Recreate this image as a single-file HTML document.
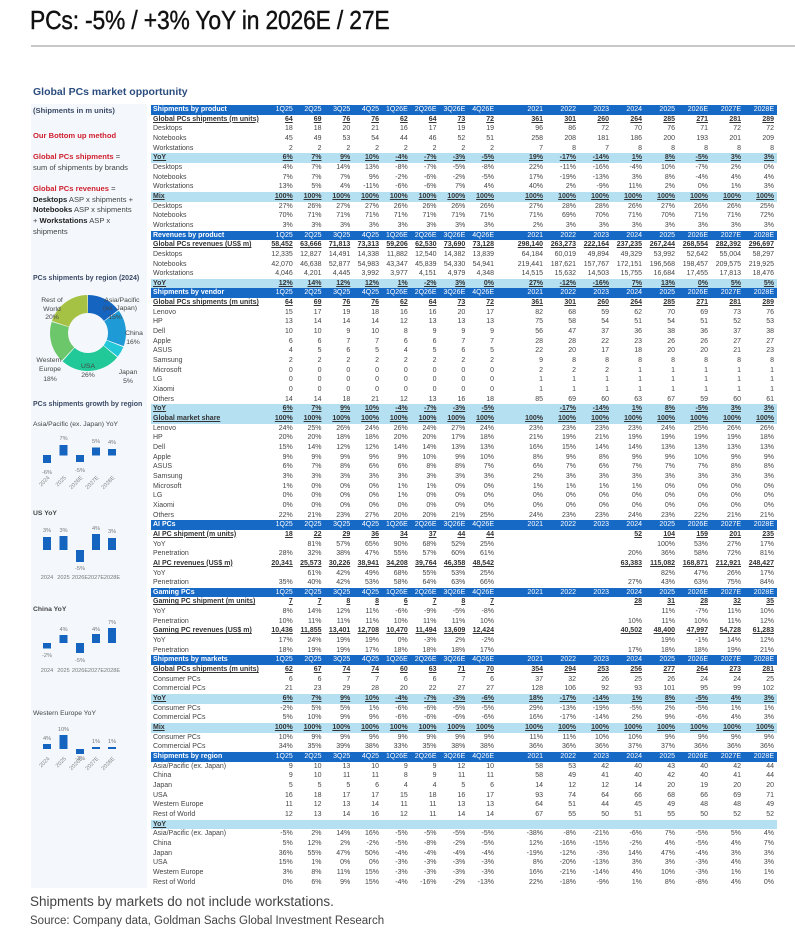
<!DOCTYPE html>
<html><head><meta charset="utf-8">
<style>
*{margin:0;padding:0;box-sizing:border-box}
body{width:795px;height:933px;background:#fff;position:relative;overflow:hidden;font-family:"Liberation Sans",Arial,sans-serif;color:#444}
#title{position:absolute;left:30px;top:5px;font-size:26px;color:#111;white-space:nowrap;transform:scaleX(0.88);transform-origin:left top;letter-spacing:-0.2px;-webkit-text-stroke:0.4px #111}
#rule{position:absolute;left:31px;top:45px;width:764px;height:2px;background:#c8c8c8}
#sub{position:absolute;left:33px;top:86px;font-size:10.5px;font-weight:bold;color:#2b4c7e}
#panel{position:absolute;left:31px;top:104px;width:116px;height:784px;background:#f4f8fc}
#tbl{position:absolute;left:151px;top:105px;width:626px}
.r{display:grid;grid-template-columns:115px repeat(8,28.75px) 16px repeat(8,33px);height:9.66px;line-height:9.66px;font-size:7px;white-space:nowrap}
.r>*{text-align:right;padding-right:2px;overflow:visible}
.r>*:first-child{text-align:left;padding-left:2px}
.h{background:#1769c6;color:#fff}
.h>*:first-child{font-weight:bold}
.l{background:#b4e0f2;font-weight:bold;color:#333}
.l>*{text-decoration:underline}
.t{font-weight:bold;color:#333}
.t>*{text-decoration:underline}
.foot{position:absolute;left:30px;color:#444;white-space:nowrap}
svg{position:absolute;left:0;top:0}
</style></head><body>
<div id="title">PCs: -5% / +3% YoY in 2026E / 27E</div>
<div id="rule"></div>
<div id="sub">Global PCs market opportunity</div>
<div id="panel"></div>

<svg width="795" height="933" viewBox="0 0 795 933" font-family="Liberation Sans, Arial, sans-serif">
<g font-size="7.6">
<text x="33" y="113" font-weight="bold" fill="#3c4a66">(Shipments in m units)</text>
<text x="33" y="138" font-weight="bold" fill="#d0202e">Our Bottom up method</text>
<text x="33" y="159"><tspan font-weight="bold" fill="#d0202e">Global PCs shipments</tspan><tspan fill="#444"> =</tspan></text>
<text x="33" y="170" fill="#444">sum of shipments by brands</text>
<text x="33" y="191"><tspan font-weight="bold" fill="#d0202e">Global PCs revenues</tspan><tspan fill="#444"> =</tspan></text>
<text x="33" y="202" fill="#444"><tspan font-weight="bold" fill="#222">Desktops</tspan> ASP x shipments +</text>
<text x="33" y="212" fill="#444"><tspan font-weight="bold" fill="#222">Notebooks</tspan> ASP x shipments</text>
<text x="33" y="223" fill="#444">+ <tspan font-weight="bold" fill="#222">Workstations</tspan> ASP x</text>
<text x="33" y="234" fill="#444">shipments</text>
</g>
<g font-size="7" font-weight="bold" fill="#3c4a66">
<text x="33" y="280">PCs shipments by region (2024)</text>
<text x="33" y="406">PCs shipments growth by region</text>
</g>
<g transform="rotate(-90 88 333)" fill="none" stroke-width="18">
<circle cx="88" cy="333" r="29" stroke="#1565c0" stroke-dasharray="26.6 182.2" stroke-dashoffset="0"/>
<circle cx="88" cy="333" r="29" stroke="#1e9ad6" stroke-dasharray="28.4 182.2" stroke-dashoffset="-27.33"/>
<circle cx="88" cy="333" r="29" stroke="#22c8d8" stroke-dasharray="8.4 182.2" stroke-dashoffset="-56.48"/>
<circle cx="88" cy="333" r="29" stroke="#20c997" stroke-dasharray="46.6 182.2" stroke-dashoffset="-65.59"/>
<circle cx="88" cy="333" r="29" stroke="#6cc66a" stroke-dasharray="32.1 182.2" stroke-dashoffset="-112.96"/>
<circle cx="88" cy="333" r="29" stroke="#a6c244" stroke-dasharray="35.7 182.2" stroke-dashoffset="-145.76"/>
</g>
<g font-size="6.8" fill="#444" text-anchor="middle">
<text x="52" y="302">Rest of</text><text x="52" y="311">World</text><text x="52" y="319">20%</text>
<text x="122" y="302">Asia/Pacific</text><text x="120" y="310">(ex. Japan)</text><text x="115" y="319">15%</text>
<text x="134" y="335">China</text><text x="133" y="344">16%</text>
<text x="128" y="374">Japan</text><text x="128" y="383">5%</text>
<text x="88" y="368">USA</text><text x="88" y="377">26%</text>
<text x="49" y="362">Western</text><text x="50" y="371">Europe</text><text x="50" y="381">18%</text>
</g>
<g font-size="6.8" fill="#444">
<text x="33" y="426">Asia/Pacific (ex. Japan) YoY</text>
<text x="33" y="515" font-weight="bold">US YoY</text>
<text x="33" y="611" font-weight="bold">China YoY</text>
<text x="33" y="715">Western Europe YoY</text>
</g>
<g fill="#1565c0">
<rect x="43" y="455" width="8" height="8"/><rect x="59.5" y="445" width="8" height="10.5"/><rect x="76" y="455" width="8" height="7"/><rect x="92" y="447.5" width="8" height="8"/><rect x="108" y="449" width="8" height="6.5"/>
<rect x="43" y="537" width="8" height="13"/><rect x="59.5" y="536" width="8" height="14"/><rect x="76" y="550" width="8" height="12"/><rect x="92" y="534" width="8" height="16"/><rect x="108" y="538" width="8" height="12"/>
<rect x="43" y="643" width="8" height="5.5"/><rect x="59.5" y="635" width="8" height="8"/><rect x="76" y="643" width="8" height="10"/><rect x="92" y="634" width="8" height="9"/><rect x="108" y="628" width="8" height="15"/>
<rect x="43" y="744" width="8" height="5"/><rect x="59.5" y="735" width="8" height="14"/><rect x="76" y="749" width="8" height="5"/><rect x="92" y="747" width="8" height="2"/><rect x="108" y="747" width="8" height="2"/>
</g>
<g font-size="5.6" fill="#777" text-anchor="middle">
<text x="63.5" y="440">7%</text><text x="96" y="443">5%</text><text x="112" y="444">4%</text><text x="47" y="474">-6%</text><text x="80" y="472">-5%</text>
<text x="47" y="532">3%</text><text x="63.5" y="532">3%</text><text x="96" y="530">4%</text><text x="112" y="533">3%</text><text x="80" y="570">-5%</text>
<text x="47" y="579">2024</text><text x="63.5" y="579">2025</text><text x="80" y="579">2026E</text><text x="96" y="579">2027E</text><text x="112" y="579">2028E</text>
<text x="63.5" y="631">4%</text><text x="96" y="631">4%</text><text x="112" y="624">7%</text><text x="47" y="657">-2%</text><text x="80" y="662">-5%</text>
<text x="47" y="672">2024</text><text x="63.5" y="672">2025</text><text x="80" y="672">2026E</text><text x="96" y="672">2027E</text><text x="112" y="672">2028E</text>
<text x="47" y="740">4%</text><text x="63.5" y="731">10%</text><text x="96" y="743">1%</text><text x="112" y="743">1%</text><text x="80" y="760">-3%</text>
</g>
<g font-size="5.6" fill="#888" text-anchor="end">
<text transform="translate(50 478) rotate(-45)">2024</text><text transform="translate(66.5 478) rotate(-45)">2025</text><text transform="translate(83 478) rotate(-45)">2026E</text><text transform="translate(99 478) rotate(-45)">2027E</text><text transform="translate(115 478) rotate(-45)">2028E</text>
<text transform="translate(50 759) rotate(-45)">2024</text><text transform="translate(66.5 759) rotate(-45)">2025</text><text transform="translate(83 759) rotate(-45)">2026E</text><text transform="translate(99 759) rotate(-45)">2027E</text><text transform="translate(115 759) rotate(-45)">2028E</text>
</g>
</svg>

<div id="tbl">
<div class="r h"><span>Shipments by product</span><span>1Q25</span><span>2Q25</span><span>3Q25</span><span>4Q25</span><span>1Q26E</span><span>2Q26E</span><span>3Q26E</span><span>4Q26E</span><em></em><span>2021</span><span>2022</span><span>2023</span><span>2024</span><span>2025</span><span>2026E</span><span>2027E</span><span>2028E</span></div>
<div class="r t"><span>Global PCs shipments (m units)</span><span>64</span><span>69</span><span>76</span><span>76</span><span>62</span><span>64</span><span>73</span><span>72</span><em></em><span>361</span><span>301</span><span>260</span><span>264</span><span>285</span><span>271</span><span>281</span><span>289</span></div>
<div class="r"><span>Desktops</span><span>18</span><span>18</span><span>20</span><span>21</span><span>16</span><span>17</span><span>19</span><span>19</span><em></em><span>96</span><span>86</span><span>72</span><span>70</span><span>76</span><span>71</span><span>72</span><span>72</span></div>
<div class="r"><span>Notebooks</span><span>45</span><span>49</span><span>53</span><span>54</span><span>44</span><span>46</span><span>52</span><span>51</span><em></em><span>258</span><span>208</span><span>181</span><span>186</span><span>200</span><span>193</span><span>201</span><span>209</span></div>
<div class="r"><span>Workstations</span><span>2</span><span>2</span><span>2</span><span>2</span><span>2</span><span>2</span><span>2</span><span>2</span><em></em><span>7</span><span>8</span><span>7</span><span>8</span><span>8</span><span>8</span><span>8</span><span>8</span></div>
<div class="r l"><span>YoY</span><span>6%</span><span>7%</span><span>9%</span><span>10%</span><span>-4%</span><span>-7%</span><span>-3%</span><span>-5%</span><em></em><span>19%</span><span>-17%</span><span>-14%</span><span>1%</span><span>8%</span><span>-5%</span><span>3%</span><span>3%</span></div>
<div class="r"><span>Desktops</span><span>4%</span><span>7%</span><span>14%</span><span>13%</span><span>-8%</span><span>-7%</span><span>-5%</span><span>-8%</span><em></em><span>22%</span><span>-11%</span><span>-16%</span><span>-4%</span><span>10%</span><span>-7%</span><span>2%</span><span>0%</span></div>
<div class="r"><span>Notebooks</span><span>7%</span><span>7%</span><span>7%</span><span>9%</span><span>-2%</span><span>-6%</span><span>-2%</span><span>-5%</span><em></em><span>17%</span><span>-19%</span><span>-13%</span><span>3%</span><span>8%</span><span>-4%</span><span>4%</span><span>4%</span></div>
<div class="r"><span>Workstations</span><span>13%</span><span>5%</span><span>4%</span><span>-11%</span><span>-6%</span><span>-6%</span><span>7%</span><span>4%</span><em></em><span>40%</span><span>2%</span><span>-9%</span><span>11%</span><span>2%</span><span>0%</span><span>1%</span><span>3%</span></div>
<div class="r l"><span>Mix</span><span>100%</span><span>100%</span><span>100%</span><span>100%</span><span>100%</span><span>100%</span><span>100%</span><span>100%</span><em></em><span>100%</span><span>100%</span><span>100%</span><span>100%</span><span>100%</span><span>100%</span><span>100%</span><span>100%</span></div>
<div class="r"><span>Desktops</span><span>27%</span><span>26%</span><span>27%</span><span>27%</span><span>26%</span><span>26%</span><span>26%</span><span>26%</span><em></em><span>27%</span><span>28%</span><span>28%</span><span>26%</span><span>27%</span><span>26%</span><span>26%</span><span>25%</span></div>
<div class="r"><span>Notebooks</span><span>70%</span><span>71%</span><span>71%</span><span>71%</span><span>71%</span><span>71%</span><span>71%</span><span>71%</span><em></em><span>71%</span><span>69%</span><span>70%</span><span>71%</span><span>70%</span><span>71%</span><span>71%</span><span>72%</span></div>
<div class="r"><span>Workstations</span><span>3%</span><span>3%</span><span>3%</span><span>3%</span><span>3%</span><span>3%</span><span>3%</span><span>3%</span><em></em><span>2%</span><span>3%</span><span>3%</span><span>3%</span><span>3%</span><span>3%</span><span>3%</span><span>3%</span></div>
<div class="r h"><span>Revenues by product</span><span>1Q25</span><span>2Q25</span><span>3Q25</span><span>4Q25</span><span>1Q26E</span><span>2Q26E</span><span>3Q26E</span><span>4Q26E</span><em></em><span>2021</span><span>2022</span><span>2023</span><span>2024</span><span>2025</span><span>2026E</span><span>2027E</span><span>2028E</span></div>
<div class="r t"><span>Global PCs revenues (US$ m)</span><span>58,452</span><span>63,666</span><span>71,813</span><span>73,313</span><span>59,206</span><span>62,530</span><span>73,690</span><span>73,128</span><em></em><span>298,140</span><span>263,273</span><span>222,164</span><span>237,235</span><span>267,244</span><span>268,554</span><span>282,392</span><span>296,697</span></div>
<div class="r"><span>Desktops</span><span>12,335</span><span>12,827</span><span>14,491</span><span>14,338</span><span>11,882</span><span>12,540</span><span>14,382</span><span>13,839</span><em></em><span>64,184</span><span>60,019</span><span>49,894</span><span>49,329</span><span>53,992</span><span>52,642</span><span>55,004</span><span>58,297</span></div>
<div class="r"><span>Notebooks</span><span>42,070</span><span>46,638</span><span>52,877</span><span>54,983</span><span>43,347</span><span>45,839</span><span>54,330</span><span>54,941</span><em></em><span>219,441</span><span>187,621</span><span>157,767</span><span>172,151</span><span>196,568</span><span>198,457</span><span>209,575</span><span>219,925</span></div>
<div class="r"><span>Workstations</span><span>4,046</span><span>4,201</span><span>4,445</span><span>3,992</span><span>3,977</span><span>4,151</span><span>4,979</span><span>4,348</span><em></em><span>14,515</span><span>15,632</span><span>14,503</span><span>15,755</span><span>16,684</span><span>17,455</span><span>17,813</span><span>18,476</span></div>
<div class="r l"><span>YoY</span><span>12%</span><span>14%</span><span>12%</span><span>12%</span><span>1%</span><span>-2%</span><span>3%</span><span>0%</span><em></em><span>27%</span><span>-12%</span><span>-16%</span><span>7%</span><span>13%</span><span>0%</span><span>5%</span><span>5%</span></div>
<div class="r h"><span>Shipments by vendor</span><span>1Q25</span><span>2Q25</span><span>3Q25</span><span>4Q25</span><span>1Q26E</span><span>2Q26E</span><span>3Q26E</span><span>4Q26E</span><em></em><span>2021</span><span>2022</span><span>2023</span><span>2024</span><span>2025</span><span>2026E</span><span>2027E</span><span>2028E</span></div>
<div class="r t"><span>Global PCs shipments (m units)</span><span>64</span><span>69</span><span>76</span><span>76</span><span>62</span><span>64</span><span>73</span><span>72</span><em></em><span>361</span><span>301</span><span>260</span><span>264</span><span>285</span><span>271</span><span>281</span><span>289</span></div>
<div class="r"><span>Lenovo</span><span>15</span><span>17</span><span>19</span><span>18</span><span>16</span><span>16</span><span>20</span><span>17</span><em></em><span>82</span><span>68</span><span>59</span><span>62</span><span>70</span><span>69</span><span>73</span><span>76</span></div>
<div class="r"><span>HP</span><span>13</span><span>14</span><span>14</span><span>14</span><span>12</span><span>13</span><span>13</span><span>13</span><em></em><span>75</span><span>58</span><span>54</span><span>51</span><span>54</span><span>51</span><span>52</span><span>53</span></div>
<div class="r"><span>Dell</span><span>10</span><span>10</span><span>9</span><span>10</span><span>8</span><span>9</span><span>9</span><span>9</span><em></em><span>56</span><span>47</span><span>37</span><span>36</span><span>38</span><span>36</span><span>37</span><span>38</span></div>
<div class="r"><span>Apple</span><span>6</span><span>6</span><span>7</span><span>7</span><span>6</span><span>6</span><span>7</span><span>7</span><em></em><span>28</span><span>28</span><span>22</span><span>23</span><span>26</span><span>26</span><span>27</span><span>27</span></div>
<div class="r"><span>ASUS</span><span>4</span><span>5</span><span>6</span><span>5</span><span>4</span><span>5</span><span>6</span><span>5</span><em></em><span>22</span><span>20</span><span>17</span><span>18</span><span>20</span><span>20</span><span>21</span><span>23</span></div>
<div class="r"><span>Samsung</span><span>2</span><span>2</span><span>2</span><span>2</span><span>2</span><span>2</span><span>2</span><span>2</span><em></em><span>9</span><span>8</span><span>8</span><span>8</span><span>8</span><span>8</span><span>8</span><span>8</span></div>
<div class="r"><span>Microsoft</span><span>0</span><span>0</span><span>0</span><span>0</span><span>0</span><span>0</span><span>0</span><span>0</span><em></em><span>2</span><span>2</span><span>2</span><span>1</span><span>1</span><span>1</span><span>1</span><span>1</span></div>
<div class="r"><span>LG</span><span>0</span><span>0</span><span>0</span><span>0</span><span>0</span><span>0</span><span>0</span><span>0</span><em></em><span>1</span><span>1</span><span>1</span><span>1</span><span>1</span><span>1</span><span>1</span><span>1</span></div>
<div class="r"><span>Xiaomi</span><span>0</span><span>0</span><span>0</span><span>0</span><span>0</span><span>0</span><span>0</span><span>0</span><em></em><span>1</span><span>1</span><span>1</span><span>1</span><span>1</span><span>1</span><span>1</span><span>1</span></div>
<div class="r"><span>Others</span><span>14</span><span>14</span><span>18</span><span>21</span><span>12</span><span>13</span><span>16</span><span>18</span><em></em><span>85</span><span>69</span><span>60</span><span>63</span><span>67</span><span>59</span><span>60</span><span>61</span></div>
<div class="r l"><span>YoY</span><span>6%</span><span>7%</span><span>9%</span><span>10%</span><span>-4%</span><span>-7%</span><span>-3%</span><span>-5%</span><em></em><span></span><span>-17%</span><span>-14%</span><span>1%</span><span>8%</span><span>-5%</span><span>3%</span><span>3%</span></div>
<div class="r l"><span>Global market share</span><span>100%</span><span>100%</span><span>100%</span><span>100%</span><span>100%</span><span>100%</span><span>100%</span><span>100%</span><em></em><span>100%</span><span>100%</span><span>100%</span><span>100%</span><span>100%</span><span>100%</span><span>100%</span><span>100%</span></div>
<div class="r"><span>Lenovo</span><span>24%</span><span>25%</span><span>26%</span><span>24%</span><span>26%</span><span>24%</span><span>27%</span><span>24%</span><em></em><span>23%</span><span>23%</span><span>23%</span><span>23%</span><span>24%</span><span>25%</span><span>26%</span><span>26%</span></div>
<div class="r"><span>HP</span><span>20%</span><span>20%</span><span>18%</span><span>18%</span><span>20%</span><span>20%</span><span>17%</span><span>18%</span><em></em><span>21%</span><span>19%</span><span>21%</span><span>19%</span><span>19%</span><span>19%</span><span>19%</span><span>18%</span></div>
<div class="r"><span>Dell</span><span>15%</span><span>14%</span><span>12%</span><span>12%</span><span>14%</span><span>14%</span><span>13%</span><span>13%</span><em></em><span>16%</span><span>15%</span><span>14%</span><span>14%</span><span>13%</span><span>13%</span><span>13%</span><span>13%</span></div>
<div class="r"><span>Apple</span><span>9%</span><span>9%</span><span>9%</span><span>9%</span><span>9%</span><span>10%</span><span>9%</span><span>10%</span><em></em><span>8%</span><span>9%</span><span>8%</span><span>9%</span><span>9%</span><span>10%</span><span>9%</span><span>9%</span></div>
<div class="r"><span>ASUS</span><span>6%</span><span>7%</span><span>8%</span><span>6%</span><span>6%</span><span>8%</span><span>8%</span><span>7%</span><em></em><span>6%</span><span>7%</span><span>6%</span><span>7%</span><span>7%</span><span>7%</span><span>8%</span><span>8%</span></div>
<div class="r"><span>Samsung</span><span>3%</span><span>3%</span><span>3%</span><span>3%</span><span>3%</span><span>3%</span><span>3%</span><span>3%</span><em></em><span>2%</span><span>3%</span><span>3%</span><span>3%</span><span>3%</span><span>3%</span><span>3%</span><span>3%</span></div>
<div class="r"><span>Microsoft</span><span>1%</span><span>0%</span><span>0%</span><span>0%</span><span>1%</span><span>1%</span><span>0%</span><span>0%</span><em></em><span>1%</span><span>1%</span><span>1%</span><span>1%</span><span>0%</span><span>0%</span><span>0%</span><span>0%</span></div>
<div class="r"><span>LG</span><span>0%</span><span>0%</span><span>0%</span><span>0%</span><span>1%</span><span>0%</span><span>0%</span><span>0%</span><em></em><span>0%</span><span>0%</span><span>0%</span><span>0%</span><span>0%</span><span>0%</span><span>0%</span><span>0%</span></div>
<div class="r"><span>Xiaomi</span><span>0%</span><span>0%</span><span>0%</span><span>0%</span><span>0%</span><span>0%</span><span>0%</span><span>0%</span><em></em><span>0%</span><span>0%</span><span>0%</span><span>0%</span><span>0%</span><span>0%</span><span>0%</span><span>0%</span></div>
<div class="r"><span>Others</span><span>22%</span><span>21%</span><span>23%</span><span>27%</span><span>20%</span><span>20%</span><span>21%</span><span>25%</span><em></em><span>24%</span><span>23%</span><span>23%</span><span>24%</span><span>23%</span><span>22%</span><span>21%</span><span>21%</span></div>
<div class="r h"><span>AI PCs</span><span>1Q25</span><span>2Q25</span><span>3Q25</span><span>4Q25</span><span>1Q26E</span><span>2Q26E</span><span>3Q26E</span><span>4Q26E</span><em></em><span>2021</span><span>2022</span><span>2023</span><span>2024</span><span>2025</span><span>2026E</span><span>2027E</span><span>2028E</span></div>
<div class="r t"><span>AI PC shipment (m units)</span><span>18</span><span>22</span><span>29</span><span>36</span><span>34</span><span>37</span><span>44</span><span>44</span><em></em><span></span><span></span><span></span><span>52</span><span>104</span><span>159</span><span>201</span><span>235</span></div>
<div class="r"><span>YoY</span><span></span><span>81%</span><span>57%</span><span>65%</span><span>90%</span><span>68%</span><span>52%</span><span>25%</span><em></em><span></span><span></span><span></span><span></span><span>100%</span><span>53%</span><span>27%</span><span>17%</span></div>
<div class="r"><span>Penetration</span><span>28%</span><span>32%</span><span>38%</span><span>47%</span><span>55%</span><span>57%</span><span>60%</span><span>61%</span><em></em><span></span><span></span><span></span><span>20%</span><span>36%</span><span>58%</span><span>72%</span><span>81%</span></div>
<div class="r t"><span>AI PC revenues (US$ m)</span><span>20,341</span><span>25,573</span><span>30,226</span><span>38,941</span><span>34,208</span><span>39,764</span><span>46,358</span><span>48,542</span><em></em><span></span><span></span><span></span><span>63,383</span><span>115,082</span><span>168,871</span><span>212,921</span><span>248,427</span></div>
<div class="r"><span>YoY</span><span></span><span>61%</span><span>42%</span><span>49%</span><span>68%</span><span>55%</span><span>53%</span><span>25%</span><em></em><span></span><span></span><span></span><span></span><span>82%</span><span>47%</span><span>26%</span><span>17%</span></div>
<div class="r"><span>Penetration</span><span>35%</span><span>40%</span><span>42%</span><span>53%</span><span>58%</span><span>64%</span><span>63%</span><span>66%</span><em></em><span></span><span></span><span></span><span>27%</span><span>43%</span><span>63%</span><span>75%</span><span>84%</span></div>
<div class="r h"><span>Gaming PCs</span><span>1Q25</span><span>2Q25</span><span>3Q25</span><span>4Q25</span><span>1Q26E</span><span>2Q26E</span><span>3Q26E</span><span>4Q26E</span><em></em><span>2021</span><span>2022</span><span>2023</span><span>2024</span><span>2025</span><span>2026E</span><span>2027E</span><span>2028E</span></div>
<div class="r t"><span>Gaming PC shipment (m units)</span><span>7</span><span>7</span><span>8</span><span>8</span><span>6</span><span>7</span><span>8</span><span>7</span><em></em><span></span><span></span><span></span><span>28</span><span>31</span><span>28</span><span>32</span><span>35</span></div>
<div class="r"><span>YoY</span><span>8%</span><span>14%</span><span>12%</span><span>11%</span><span>-6%</span><span>-9%</span><span>-5%</span><span>-8%</span><em></em><span></span><span></span><span></span><span></span><span>11%</span><span>-7%</span><span>11%</span><span>10%</span></div>
<div class="r"><span>Penetration</span><span>10%</span><span>11%</span><span>11%</span><span>11%</span><span>10%</span><span>11%</span><span>11%</span><span>10%</span><em></em><span></span><span></span><span></span><span>10%</span><span>11%</span><span>10%</span><span>11%</span><span>12%</span></div>
<div class="r t"><span>Gaming PC revenues (US$ m)</span><span>10,436</span><span>11,855</span><span>13,401</span><span>12,708</span><span>10,470</span><span>11,494</span><span>13,609</span><span>12,424</span><em></em><span></span><span></span><span></span><span>40,502</span><span>48,400</span><span>47,997</span><span>54,728</span><span>61,283</span></div>
<div class="r"><span>YoY</span><span>17%</span><span>24%</span><span>19%</span><span>19%</span><span>0%</span><span>-3%</span><span>2%</span><span>-2%</span><em></em><span></span><span></span><span></span><span></span><span>19%</span><span>-1%</span><span>14%</span><span>12%</span></div>
<div class="r"><span>Penetration</span><span>18%</span><span>19%</span><span>19%</span><span>17%</span><span>18%</span><span>18%</span><span>18%</span><span>17%</span><em></em><span></span><span></span><span></span><span>17%</span><span>18%</span><span>18%</span><span>19%</span><span>21%</span></div>
<div class="r h"><span>Shipments by markets</span><span>1Q25</span><span>2Q25</span><span>3Q25</span><span>4Q25</span><span>1Q26E</span><span>2Q26E</span><span>3Q26E</span><span>4Q26E</span><em></em><span>2021</span><span>2022</span><span>2023</span><span>2024</span><span>2025</span><span>2026E</span><span>2027E</span><span>2028E</span></div>
<div class="r t"><span>Global PCs shipments (m units)</span><span>62</span><span>67</span><span>74</span><span>74</span><span>60</span><span>63</span><span>71</span><span>70</span><em></em><span>354</span><span>294</span><span>253</span><span>256</span><span>277</span><span>264</span><span>273</span><span>281</span></div>
<div class="r"><span>Consumer PCs</span><span>6</span><span>6</span><span>7</span><span>7</span><span>6</span><span>6</span><span>7</span><span>6</span><em></em><span>37</span><span>32</span><span>26</span><span>25</span><span>26</span><span>24</span><span>24</span><span>25</span></div>
<div class="r"><span>Commercial PCs</span><span>21</span><span>23</span><span>29</span><span>28</span><span>20</span><span>22</span><span>27</span><span>27</span><em></em><span>128</span><span>106</span><span>92</span><span>93</span><span>101</span><span>95</span><span>99</span><span>102</span></div>
<div class="r l"><span>YoY</span><span>6%</span><span>7%</span><span>9%</span><span>10%</span><span>-4%</span><span>-7%</span><span>-3%</span><span>-6%</span><em></em><span>18%</span><span>-17%</span><span>-14%</span><span>1%</span><span>8%</span><span>-5%</span><span>4%</span><span>3%</span></div>
<div class="r"><span>Consumer PCs</span><span>-2%</span><span>5%</span><span>5%</span><span>1%</span><span>-6%</span><span>-6%</span><span>-5%</span><span>-5%</span><em></em><span>29%</span><span>-13%</span><span>-19%</span><span>-5%</span><span>2%</span><span>-5%</span><span>1%</span><span>1%</span></div>
<div class="r"><span>Commercial PCs</span><span>5%</span><span>10%</span><span>9%</span><span>9%</span><span>-6%</span><span>-6%</span><span>-6%</span><span>-6%</span><em></em><span>16%</span><span>-17%</span><span>-14%</span><span>2%</span><span>9%</span><span>-6%</span><span>4%</span><span>3%</span></div>
<div class="r l"><span>Mix</span><span>100%</span><span>100%</span><span>100%</span><span>100%</span><span>100%</span><span>100%</span><span>100%</span><span>100%</span><em></em><span>100%</span><span>100%</span><span>100%</span><span>100%</span><span>100%</span><span>100%</span><span>100%</span><span>100%</span></div>
<div class="r"><span>Consumer PCs</span><span>10%</span><span>9%</span><span>9%</span><span>9%</span><span>9%</span><span>9%</span><span>9%</span><span>9%</span><em></em><span>11%</span><span>11%</span><span>10%</span><span>10%</span><span>9%</span><span>9%</span><span>9%</span><span>9%</span></div>
<div class="r"><span>Commercial PCs</span><span>34%</span><span>35%</span><span>39%</span><span>38%</span><span>33%</span><span>35%</span><span>38%</span><span>38%</span><em></em><span>36%</span><span>36%</span><span>36%</span><span>37%</span><span>37%</span><span>36%</span><span>36%</span><span>36%</span></div>
<div class="r h"><span>Shipments by region</span><span>1Q25</span><span>2Q25</span><span>3Q25</span><span>4Q25</span><span>1Q26E</span><span>2Q26E</span><span>3Q26E</span><span>4Q26E</span><em></em><span>2021</span><span>2022</span><span>2023</span><span>2024</span><span>2025</span><span>2026E</span><span>2027E</span><span>2028E</span></div>
<div class="r"><span>Asia/Pacific (ex. Japan)</span><span>9</span><span>10</span><span>13</span><span>10</span><span>9</span><span>9</span><span>12</span><span>10</span><em></em><span>58</span><span>53</span><span>42</span><span>40</span><span>43</span><span>40</span><span>42</span><span>44</span></div>
<div class="r"><span>China</span><span>9</span><span>10</span><span>11</span><span>11</span><span>8</span><span>9</span><span>11</span><span>11</span><em></em><span>58</span><span>49</span><span>41</span><span>40</span><span>42</span><span>40</span><span>41</span><span>44</span></div>
<div class="r"><span>Japan</span><span>5</span><span>5</span><span>5</span><span>6</span><span>4</span><span>4</span><span>5</span><span>6</span><em></em><span>14</span><span>12</span><span>12</span><span>14</span><span>20</span><span>19</span><span>20</span><span>20</span></div>
<div class="r"><span>USA</span><span>16</span><span>18</span><span>17</span><span>17</span><span>15</span><span>18</span><span>16</span><span>17</span><em></em><span>93</span><span>74</span><span>64</span><span>66</span><span>68</span><span>66</span><span>69</span><span>71</span></div>
<div class="r"><span>Western Europe</span><span>11</span><span>12</span><span>13</span><span>14</span><span>11</span><span>11</span><span>13</span><span>13</span><em></em><span>64</span><span>51</span><span>44</span><span>45</span><span>49</span><span>48</span><span>48</span><span>49</span></div>
<div class="r"><span>Rest of World</span><span>12</span><span>13</span><span>14</span><span>16</span><span>12</span><span>11</span><span>14</span><span>14</span><em></em><span>67</span><span>55</span><span>50</span><span>51</span><span>55</span><span>50</span><span>52</span><span>52</span></div>
<div class="r l"><span>YoY</span><span></span><span></span><span></span><span></span><span></span><span></span><span></span><span></span><em></em><span></span><span></span><span></span><span></span><span></span><span></span><span></span><span></span></div>
<div class="r"><span>Asia/Pacific (ex. Japan)</span><span>-5%</span><span>2%</span><span>14%</span><span>16%</span><span>-5%</span><span>-5%</span><span>-5%</span><span>-5%</span><em></em><span>-38%</span><span>-8%</span><span>-21%</span><span>-6%</span><span>7%</span><span>-5%</span><span>5%</span><span>4%</span></div>
<div class="r"><span>China</span><span>5%</span><span>12%</span><span>2%</span><span>-2%</span><span>-5%</span><span>-8%</span><span>-2%</span><span>-5%</span><em></em><span>12%</span><span>-16%</span><span>-15%</span><span>-2%</span><span>4%</span><span>-5%</span><span>4%</span><span>7%</span></div>
<div class="r"><span>Japan</span><span>36%</span><span>55%</span><span>47%</span><span>50%</span><span>-4%</span><span>-4%</span><span>-4%</span><span>-4%</span><em></em><span>-19%</span><span>-12%</span><span>-3%</span><span>14%</span><span>47%</span><span>-4%</span><span>3%</span><span>3%</span></div>
<div class="r"><span>USA</span><span>15%</span><span>1%</span><span>0%</span><span>0%</span><span>-3%</span><span>-3%</span><span>-3%</span><span>-3%</span><em></em><span>8%</span><span>-20%</span><span>-13%</span><span>3%</span><span>3%</span><span>-3%</span><span>4%</span><span>3%</span></div>
<div class="r"><span>Western Europe</span><span>3%</span><span>8%</span><span>11%</span><span>15%</span><span>-3%</span><span>-3%</span><span>-3%</span><span>-3%</span><em></em><span>16%</span><span>-21%</span><span>-14%</span><span>4%</span><span>10%</span><span>-3%</span><span>1%</span><span>1%</span></div>
<div class="r"><span>Rest of World</span><span>0%</span><span>6%</span><span>9%</span><span>15%</span><span>-4%</span><span>-16%</span><span>-2%</span><span>-13%</span><em></em><span>22%</span><span>-18%</span><span>-9%</span><span>1%</span><span>8%</span><span>-8%</span><span>4%</span><span>0%</span></div>
</div>

<div class="foot" style="top:894px;font-size:13.5px">Shipments by markets do not include workstations.</div>
<div class="foot" style="top:915px;font-size:11.5px">Source: Company data, Goldman Sachs Global Investment Research</div>
</body></html>
